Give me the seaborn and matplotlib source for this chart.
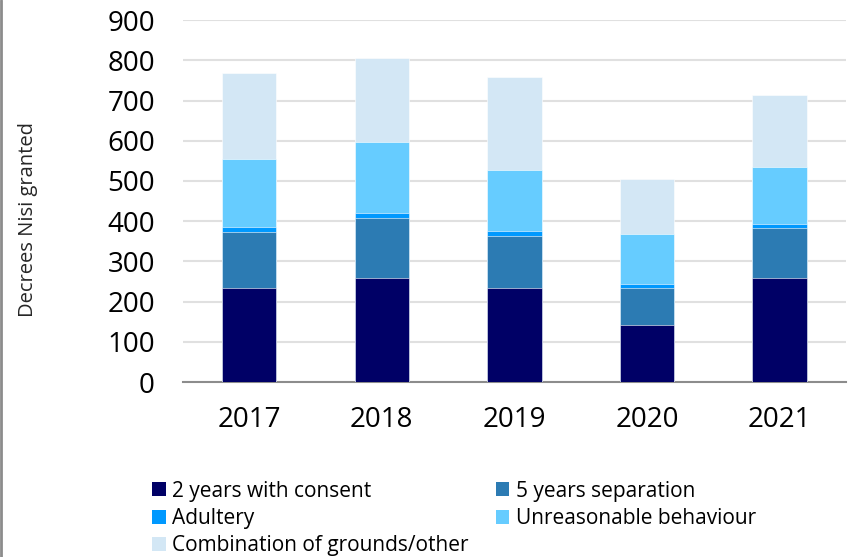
import numpy as np
import pandas as pd
import matplotlib.pyplot as plt
import seaborn as sns
from matplotlib.patches import Patch
from matplotlib.lines import Line2D

# Data
years = ['2017', '2018', '2019', '2020', '2021']
two_years_consent = [235, 259, 235, 142, 259]
five_years_separation = [138, 148, 127, 91, 124]
adultery = [12, 14, 14, 10, 10]
unreasonable_behaviour = [169, 177, 151, 125, 142]
combination_other = [214, 207, 232, 138, 178]

series_names = ['2 years with consent', '5 years separation', 'Adultery',
                'Unreasonable behaviour', 'Combination of grounds/other']
series_values = [two_years_consent, five_years_separation, adultery,
                 unreasonable_behaviour, combination_other]
colors = ['#000066', '#2C7BB3', '#0099FF', '#66CCFF', '#D3E7F5']

df = pd.DataFrame({'year': years})
for name, vals in zip(series_names, series_values):
    df[name] = vals

sns.set_style('white')
plt.rcParams['font.family'] = ['Open Sans', 'DejaVu Sans']
plt.rcParams['text.color'] = 'black'
plt.rcParams['xtick.color'] = 'black'
plt.rcParams['ytick.color'] = 'black'

fig = plt.figure(figsize=(8.58, 5.57), dpi=100)
ax = fig.add_axes([0.213, 0.314, 0.773, 0.650])

# stacked bars: draw cumulative totals from the top layer down
cum = df[series_names].cumsum(axis=1)
for name, color in reversed(list(zip(series_names, colors))):
    sns.barplot(x=df['year'], y=cum[name], color=color, width=0.41,
                saturation=1, edgecolor='white', linewidth=0.4, ax=ax, zorder=3)

ax.set_ylim(0, 900)
ax.set_yticks(range(0, 901, 100))
ax.set_xlim(-0.5, 4.5)
ax.yaxis.grid(True, color='#e0e0e0', linewidth=1.5, zorder=0)
ax.set_axisbelow(True)
for s in ['top', 'right', 'left']:
    ax.spines[s].set_visible(False)
ax.spines['bottom'].set_color('#8c8c8c')
ax.spines['bottom'].set_linewidth(1.5)
ax.tick_params(axis='y', length=0, labelsize=20, pad=20)
ax.tick_params(axis='x', length=5, width=1.5, color='#8c8c8c', labelsize=20, pad=12)
ax.set_xlabel('')
ax.set_ylabel('Decrees Nisi granted', fontsize=14.5)
ax.yaxis.set_label_coords(-0.219, 0.45)

# legend: row-wise order in two columns
order = [0, 2, 4, 1, 3]
handles = [Patch(facecolor=colors[i], edgecolor='none') for i in order]
labels = [series_names[i] for i in order]
fig.legend(handles, labels, loc='upper left', bbox_to_anchor=(0.168, 0.152),
           ncol=2, frameon=False, fontsize=15, handlelength=0.65,
           handleheight=0.65, handletextpad=0.3, columnspacing=1.3,
           labelspacing=0.3, borderaxespad=0)

# left frame line of the chart area
fig.add_artist(Line2D([0.001, 0.001], [0, 1], color='#8c8c8c', linewidth=2,
                      transform=fig.transFigure))

fig.savefig('out.png', dpi=100)
